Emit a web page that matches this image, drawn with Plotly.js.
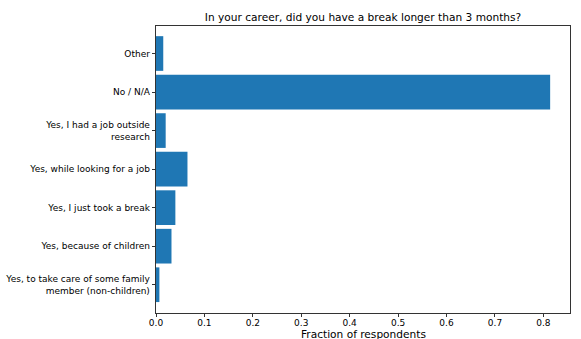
<!DOCTYPE html>
<html>
<head>
<meta charset="utf-8">
<script src="https://cdn.plot.ly/plotly-3.0.1.min.js"></script>
<style>html,body{margin:0;padding:0;background:#fff;}</style>
</head>
<body>
<div id="chart" style="width:581px;height:339px;"></div>
<script>
var categories = [
  "Yes, to take care of some family<br>member (non-children)",
  "Yes, because of children",
  "Yes, I just took a break",
  "Yes, while looking for a job",
  "Yes, I had a job outside<br>research",
  "No / N/A",
  "Other"
];
var fractions = [0.007, 0.032, 0.040, 0.065, 0.020, 0.814, 0.015];
var xTicks = [0, 0.1, 0.2, 0.3, 0.4, 0.5, 0.6, 0.7, 0.8];
var xTickLabels = ["0.0", "0.1", "0.2", "0.3", "0.4", "0.5", "0.6", "0.7", "0.8"];

var font = "DejaVu Sans, sans-serif";
var data = [{
  type: "bar",
  orientation: "h",
  x: fractions,
  y: categories,
  marker: {color: "#1f77b4", line: {width: 0}},
  hoverinfo: "x+y"
}];
var layout = {
  width: 581, height: 339,
  margin: {l: 156, r: 11, t: 26, b: 26, pad: 0},
  paper_bgcolor: "#fff", plot_bgcolor: "#fff",
  bargap: 0.1,
  showlegend: false,
  title: {
    text: "In your career, did you have a break longer than 3 months?",
    font: {family: font, size: 10.6, color: "#000"},
    x: 0.5, xref: "paper", xanchor: "center",
    y: 1, yref: "paper", yanchor: "bottom", pad: {b: 5}
  },
  xaxis: {
    range: [0, 0.855],
    tickvals: xTicks, ticktext: xTickLabels,
    ticks: "outside", ticklen: 3.5, tickwidth: 0.8, tickcolor: "#000",
    ticklabelstandoff: -2,
    showgrid: false, zeroline: false,
    showline: true, mirror: true, linecolor: "#000", linewidth: 0.8,
    tickfont: {family: font, size: 9, color: "#000"}
  },
  yaxis: {
    type: "category",
    range: [-0.734, 6.714],
    ticks: "outside", ticklen: 3.5, tickwidth: 0.8, tickcolor: "#000",
    showgrid: false, zeroline: false,
    showline: true, mirror: true, linecolor: "#000", linewidth: 0.8,
    tickfont: {family: font, size: 9, color: "#000"},
    automargin: false
  },
  annotations: [{
    text: "Fraction of respondents",
    xref: "paper", yref: "paper", x: 0.5, y: 0, xanchor: "center", yanchor: "middle",
    yshift: -21, showarrow: false,
    font: {family: font, size: 10.6, color: "#000"}
  }]
};
Plotly.newPlot("chart", data, layout, {displayModeBar: false, staticPlot: true});
</script>
</body>
</html>
